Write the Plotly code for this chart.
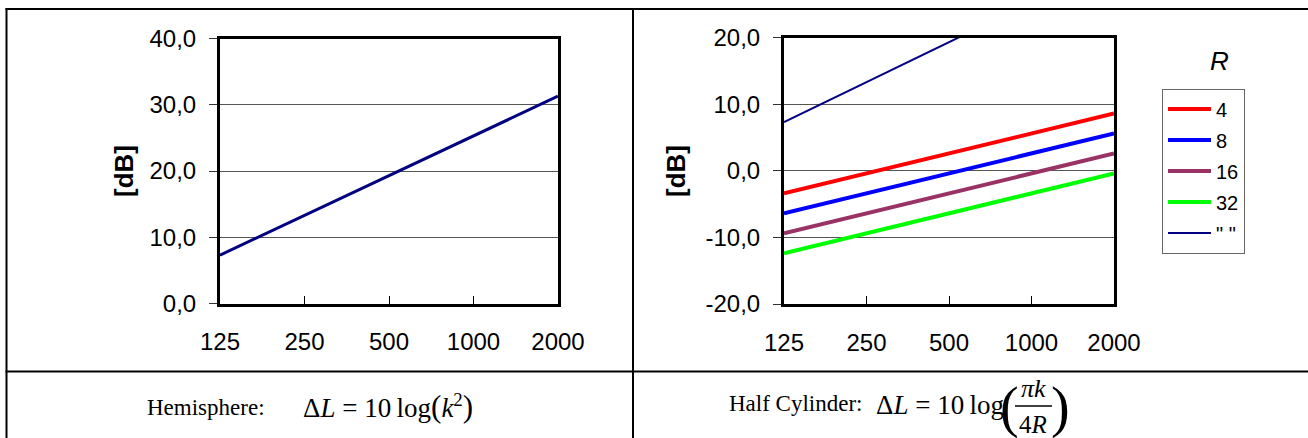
import plotly.graph_objects as go

# ---------------- data ----------------
freqs = ["125", "250", "500", "1000", "2000"]
hemisphere_dB = [7.3, 13.3, 19.3, 25.3, 31.3]
cyl_R4 = [-3.4, -0.4, 2.6, 5.6, 8.6]
cyl_R8 = [-6.4, -3.4, -0.4, 2.6, 5.6]
cyl_R16 = [-9.4, -6.4, -3.4, -0.4, 2.6]
cyl_R32 = [-12.4, -9.4, -6.4, -3.4, -0.4]
ref_line = [7.3, 13.3, 19.3, 25.3, 31.3]
r_names = ["4", "8", "16", "32", '" "']
left_yticks = [0, 10, 20, 30, 40]
left_ylabels = ["0,0", "10,0", "20,0", "30,0", "40,0"]
right_yticks = [-20, -10, 0, 10, 20]
right_ylabels = ["-20,0", "-10,0", "0,0", "10,0", "20,0"]

W, H = 1308, 438
def px(x):
    return x / W
def py(y):
    return 1 - y / H

fig = go.Figure()

fig.add_trace(go.Scatter(x=freqs, y=hemisphere_dB, mode="lines",
                         line=dict(color="#000080", width=3),
                         xaxis="x", yaxis="y", showlegend=False))

cyl_series = [cyl_R4, cyl_R8, cyl_R16, cyl_R32, ref_line]
cyl_colors = ["#FF0000", "#0000FF", "#993366", "#00FF00", "#000080"]
cyl_widths = [4, 4, 4, 4, 2]
for i, (vals, name, col, w) in enumerate(zip(cyl_series, r_names, cyl_colors, cyl_widths)):
    fig.add_trace(go.Scatter(x=freqs, y=vals, mode="lines", name=name,
                             line=dict(color=col, width=w),
                             legendgroup="g%d" % i,
                             xaxis="x2", yaxis="y2", showlegend=True))

tickfont = dict(family="Liberation Sans, Arial, sans-serif", size=24, color="black")

def xax(domain):
    return dict(domain=domain, type="category", categoryorder="array",
                categoryarray=freqs, range=[0, 4], showgrid=False,
                ticks="inside", ticklen=8, tickwidth=1, tickcolor="black",
                showline=True, linewidth=3, linecolor="black", mirror=True,
                tickfont=tickfont, ticklabelstandoff=15, zeroline=False,
                automargin=False)

def yax(domain, rng, tv, tt, anchor):
    return dict(domain=domain, range=rng, tickvals=tv, ticktext=tt,
                showgrid=True, gridcolor="#555555", gridwidth=1,
                ticks="outside", ticklen=8, tickwidth=1, tickcolor="#333333",
                showline=True, linewidth=3, linecolor="black", mirror=True,
                tickfont=tickfont, zeroline=False, anchor=anchor,
                ticklabelstandoff=8, automargin=False)

fig.update_layout(
    template="none",
    width=W, height=H,
    margin=dict(l=0, r=0, t=0, b=0, pad=0, autoexpand=False),
    paper_bgcolor="white", plot_bgcolor="white",
    xaxis=xax([px(220), px(558)]) | dict(anchor="y"),
    yaxis=yax([py(303.5), py(38.5)], [0, 40], left_yticks, left_ylabels, "x"),
    xaxis2=xax([px(784), px(1114)]) | dict(anchor="y2"),
    yaxis2=yax([py(304), py(37.5)], [-20, 20], right_yticks, right_ylabels, "x2"),
    legend=dict(x=px(1162), y=py(88.5), xanchor="left", yanchor="top",
                bordercolor="#666666", borderwidth=1, bgcolor="white",
                font=dict(family="Liberation Sans, Arial, sans-serif", size=20, color="black"),
                tracegroupgap=2, itemwidth=43),
    showlegend=True,
)

ann = []
# y titles
for xc in (124, 676):
    ann.append(dict(x=px(xc), y=py(171), xref="paper", yref="paper",
                    text="<b>[dB]</b>", textangle=-90, showarrow=False,
                    font=dict(family="Liberation Sans, Arial, sans-serif", size=26, color="black"),
                    xanchor="center", yanchor="middle"))
# legend title R
ann.append(dict(x=px(1219), y=py(61), xref="paper", yref="paper", text="<i>R</i>",
                showarrow=False, font=dict(family="Liberation Sans, Arial, sans-serif", size=26, color="black"),
                xanchor="center", yanchor="middle"))

serif = "Liberation Serif, Times New Roman, serif"
# bottom row formulas
ann.append(dict(x=px(145), y=py(407), xref="paper", yref="paper", text="Hemisphere:",
                showarrow=False, font=dict(family=serif, size=23, color="black"),
                xanchor="left", yanchor="middle"))
ann.append(dict(x=px(301), y=py(406), xref="paper", yref="paper",
                text="Δ<i>L</i> = 10\u2009log<span style='font-size:31px'>(</span><i>k</i><sup>2</sup><span style='font-size:31px'>)</span>",
                showarrow=False, font=dict(family=serif, size=27, color="black"),
                xanchor="left", yanchor="middle"))
ann.append(dict(x=px(727), y=py(403), xref="paper", yref="paper", text="Half Cylinder:",
                showarrow=False, font=dict(family=serif, size=23, color="black"),
                xanchor="left", yanchor="middle"))
ann.append(dict(x=px(874), y=py(405), xref="paper", yref="paper",
                text="Δ<i>L</i> = 10\u2009log",
                showarrow=False, font=dict(family=serif, size=27, color="black"),
                xanchor="left", yanchor="middle"))
ann.append(dict(x=px(1009), y=py(407), xref="paper", yref="paper", text="(",
                showarrow=False, font=dict(family=serif, size=56, color="black"),
                xanchor="center", yanchor="middle"))
ann.append(dict(x=px(1060), y=py(407), xref="paper", yref="paper", text=")",
                showarrow=False, font=dict(family=serif, size=56, color="black"),
                xanchor="center", yanchor="middle"))
ann.append(dict(x=px(1033), y=py(388), xref="paper", yref="paper", text="<i>πk</i>",
                showarrow=False, font=dict(family=serif, size=26, color="black"),
                xanchor="center", yanchor="middle"))
ann.append(dict(x=px(1033), y=py(424), xref="paper", yref="paper", text="4<i>R</i>",
                showarrow=False, font=dict(family=serif, size=25, color="black"),
                xanchor="center", yanchor="middle"))
fig.update_layout(annotations=ann)

shapes = []
def line(x0, y0, x1, y1, w=2, c="black"):
    shapes.append(dict(type="line", xref="paper", yref="paper",
                       x0=px(x0), y0=py(y0), x1=px(x1), y1=py(y1),
                       line=dict(color=c, width=w)))
line(5.5, 9, 1308, 9)            # top border
line(6.5, 8, 6.5, 438)           # left border
line(633, 8, 633, 438)           # middle divider
line(5.5, 371.5, 1308, 371.5)    # row divider
line(1015, 406, 1052, 406, w=1.5)  # fraction bar
fig.update_layout(shapes=shapes)

fig.write_html("out.html", config={"displayModeBar": False},
               post_script="document.body.style.margin='0';document.body.style.overflow='hidden';")
